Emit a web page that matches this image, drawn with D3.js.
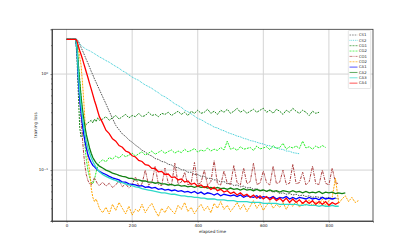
<!DOCTYPE html>
<html>
<head>
<meta charset="utf-8">
<script src="https://cdn.jsdelivr.net/npm/d3@7"></script>
<style>
body { margin: 0; background: #fff; }
text { font-family: "DejaVu Sans", sans-serif; fill: #222; }
</style>
</head>
<body>
<div class="chart"></div>
<script>
// shared time axis
var elapsed = [0,28,32,36,40,44,48,52,56,60,65,70,75,80,85,90,95,100,
  110,120,130,140,150,160,170,180,190,200,210,220,230,240,250,260,270,280,290,300,
  310,320,330,340,350,360,370,380,390,400,410,420,430,440,450,460,470,480,490,500,
  510,520,530,540,550,560,570,580,590,600,610,620,630,640,650,660,670,680,690,700,
  710,720,730,740,750,760,770,780,790,800,810,820,830,840,850,860,870,880,890];

var cs1 = [2.3,2.3,2.28,2.2,2.05,1.9,1.77,1.65,1.53,1.42,1.3,1.18,1.07,0.98,0.89,0.82,0.75,0.69,
  0.58,0.49,0.41,0.345,0.292,0.263,0.238,0.224,0.206,0.195,
  0.182,0.172,0.161,0.154,0.145,0.14,0.132,0.129,0.123,0.121,
  0.115,0.113,0.107,0.106,0.101,0.1,0.095,0.095,0.09,0.09,
  0.086,0.086,0.082,0.082,0.079,0.079,0.075,0.076,0.072,0.073,
  0.069,0.07,0.067,0.068,0.065,0.066,0.063,0.064,0.061,0.062,
  0.06,0.061,0.059,0.06,0.057,0.058,0.056,0.057,0.055,0.056,
  0.054,0.055,0.053,0.054,0.052,0.053,0.052,0.052,0.051,0.052,
  0.05,0.051,0.05];
var cs2 = [2.3,2.3,2.22,2.14,2.07,2.0,1.94,1.89,1.85,1.81,1.78,1.75,1.71,1.67,1.63,1.59,1.55,1.51,
  1.45,1.38,1.33,1.26,1.2,1.15,1.08,1.04,0.98,0.93,
  0.89,0.86,0.81,0.77,0.74,0.71,0.67,0.64,0.6,0.58,
  0.55,0.52,0.49,0.47,0.45,0.42,0.405,0.385,0.365,0.345,
  0.335,0.32,0.305,0.295,0.28,0.275,0.263,0.257,0.247,0.24,
  0.234,0.226,0.222,0.214,0.21,0.203,0.2,0.195,0.19,0.187,
  0.181,0.179,0.173,0.171,0.165,0.164,0.158,0.157,0.152,0.15,
  0.148];
var cg1 = [2.3,2.3,1.4,0.6,0.28,0.22,0.23,0.26,0.28,0.3,0.31,0.32,0.33,0.31,0.34,0.32,0.35,0.33,
  0.34,0.36,0.33,0.35,0.37,0.34,0.36,0.38,0.35,0.37,
  0.36,0.39,0.36,0.37,0.4,0.37,0.38,0.36,0.39,0.38,
  0.4,0.37,0.39,0.41,0.38,0.4,0.37,0.41,0.39,0.42,
  0.39,0.4,0.43,0.39,0.41,0.38,0.42,0.4,0.43,0.39,
  0.41,0.44,0.4,0.42,0.39,0.41,0.43,0.4,0.42,0.44,
  0.4,0.42,0.39,0.43,0.41,0.38,0.42,0.4,0.44,0.41,
  0.39,0.42,0.4,0.37,0.41,0.39,0.4];
var cg2 = [2.3,2.3,1.9,1.3,0.9,0.6,0.4,0.27,0.18,0.13,0.1,0.085,0.075,0.072,0.08,0.095,0.11,0.12,
  0.128,0.122,0.135,0.13,0.14,0.133,0.145,0.138,0.143,0.15,
  0.14,0.148,0.155,0.143,0.15,0.158,0.146,0.153,0.16,0.149,
  0.156,0.162,0.15,0.158,0.152,0.165,0.155,0.16,0.168,0.154,
  0.162,0.157,0.17,0.158,0.165,0.16,0.172,0.162,0.2,0.165,
  0.17,0.16,0.175,0.165,0.168,0.172,0.16,0.178,0.166,0.17,
  0.175,0.163,0.18,0.168,0.172,0.19,0.165,0.175,0.17,0.178,
  0.168,0.2,0.17,0.175,0.165,0.178,0.17,0.18,0.172];
var co1 = [2.3,2.3,1.8,1.1,0.6,0.35,0.22,0.15,0.11,0.09,0.078,0.072,0.07,0.076,0.083,0.077,0.071,0.069,
  0.075,0.068,0.073,0.066,0.07,0.078,0.067,0.072,0.065,0.07,
  0.085,0.068,0.072,0.1,0.07,0.074,0.11,0.071,0.069,0.105,
  0.073,0.07,0.118,0.072,0.075,0.095,0.07,0.073,0.12,0.071,
  0.074,0.1,0.069,0.076,0.125,0.072,0.07,0.098,0.073,0.071,
  0.112,0.074,0.07,0.105,0.072,0.076,0.118,0.071,0.073,0.098,
  0.074,0.07,0.11,0.072,0.075,0.1,0.071,0.073,0.115,0.072,
  0.074,0.095,0.07,0.076,0.11,0.072,0.071,0.1,0.073,0.07,
  0.105,0.074,0.072];
var co2 = [2.3,2.3,2.1,1.8,1.5,1.25,0.85,0.55,0.33,0.2,0.13,0.1,0.065,0.052,0.047,0.05,0.045,0.04,
  0.036,0.041,0.035,0.044,0.038,0.046,0.04,0.035,0.042,0.034,
  0.039,0.037,0.044,0.036,0.041,0.045,0.038,0.033,0.04,0.036,
  0.042,0.038,0.035,0.043,0.039,0.046,0.037,0.041,0.035,0.04,
  0.044,0.038,0.042,0.036,0.045,0.04,0.047,0.039,0.043,0.037,
  0.041,0.046,0.039,0.044,0.037,0.042,0.048,0.04,0.045,0.038,
  0.043,0.047,0.04,0.044,0.041,0.046,0.039,0.045,0.042,0.048,
  0.041,0.046,0.043,0.049,0.042,0.047,0.044,0.05,0.043,0.048,
  0.052,0.082,0.045,0.05,0.054,0.047,0.052,0.046,0.048];
var ca1 = [2.3,2.3,1.7,0.85,0.55,0.4,0.3,0.24,0.2,0.17,0.145,0.13,0.12,0.112,0.108,0.104,0.1,0.097,
  0.093,0.09,0.086,0.083,0.081,0.079,0.075,0.075,0.072,0.071,
  0.07,0.068,0.069,0.066,0.067,0.065,0.066,0.063,0.064,0.062,
  0.063,0.061,0.062,0.06,0.061,0.059,0.06,0.058,0.06,0.057,
  0.059,0.056,0.058,0.057,0.055,0.057,0.054,0.056,0.055,0.054,
  0.055,0.053,0.055,0.052,0.054,0.053,0.052,0.054,0.051,0.053,
  0.052,0.051,0.053,0.05,0.052,0.051,0.053,0.05,0.052,0.05,
  0.052,0.051,0.05,0.052,0.05,0.051,0.049,0.052,0.05,0.051,
  0.05,0.051];
var ca2 = [2.3,2.3,1.9,1.2,0.8,0.58,0.44,0.35,0.28,0.235,0.2,0.17,0.15,0.135,0.126,0.119,0.114,0.11,
  0.105,0.1,0.097,0.093,0.091,0.088,0.086,0.085,0.082,0.082,
  0.079,0.079,0.077,0.077,0.075,0.075,0.073,0.074,0.072,0.072,
  0.07,0.071,0.069,0.07,0.068,0.069,0.067,0.068,0.066,0.068,
  0.066,0.067,0.065,0.066,0.064,0.066,0.064,0.065,0.063,0.065,
  0.063,0.064,0.062,0.064,0.062,0.063,0.061,0.063,0.061,0.062,
  0.06,0.062,0.06,0.061,0.059,0.061,0.06,0.059,0.061,0.059,
  0.06,0.058,0.06,0.058,0.059,0.058,0.06,0.057,0.059,0.058,
  0.059,0.057,0.058,0.057,0.058];
var ca3 = [2.3,2.3,1.8,1.0,0.65,0.47,0.36,0.29,0.24,0.2,0.17,0.15,0.135,0.123,0.114,0.107,0.101,0.096,
  0.09,0.086,0.083,0.08,0.078,0.075,0.074,0.072,0.07,0.069,
  0.067,0.066,0.064,0.063,0.062,0.061,0.06,0.059,0.058,0.058,
  0.057,0.056,0.056,0.055,0.054,0.054,0.053,0.053,0.052,0.052,
  0.051,0.051,0.05,0.05,0.05,0.049,0.049,0.049,0.048,0.048,
  0.048,0.047,0.047,0.047,0.047,0.046,0.046,0.046,0.046,0.045,
  0.045,0.045,0.045,0.045,0.044,0.044,0.044,0.044,0.044,0.044,
  0.043,0.043,0.044,0.043,0.043,0.043,0.042,0.043,0.042,0.042,
  0.043,0.042,0.042];
var ca4 = [2.3,2.3,2.2,1.95,1.75,1.6,1.45,1.3,1.17,1.05,0.92,0.8,0.7,0.61,0.53,0.47,0.41,0.36,
  0.31,0.26,0.24,0.212,0.2,0.18,0.173,0.158,0.153,0.141,
  0.137,0.126,0.123,0.114,0.112,0.104,0.104,0.096,0.097,0.09,
  0.091,0.084,0.085,0.079,0.081,0.075,0.077,0.071,0.073,0.068,
  0.07,0.066,0.068,0.063,0.066,0.061,0.063,0.059,0.061,0.057,
  0.059,0.055,0.058,0.054,0.056,0.052,0.055,0.051,0.054,0.05,
  0.053,0.049,0.052,0.048,0.051,0.047,0.051,0.046,0.05,0.046,
  0.049,0.045,0.048,0.045,0.048,0.044,0.047,0.044,0.047,0.043,
  0.046,0.044,0.046];

var names = ["CS1","CS2","CG1","CG2","CO1","CO2","CA1","CA2","CA3","CA4"];
var values = [cs1, cs2, cg1, cg2, co1, co2, ca1, ca2, ca3, ca4];
var colors = ["#555555","#22c8d2","#1e8a1e","#22ee22","#b04848","#ffa500","#0000ff","#128012","#30d8c8","#ff0000"];
var dashes = ["1.6,1","0.9,0.9","2,1","2,1","3,1,1,1","2,1",null,null,null,null];

var xTicks = [0,200,400,600,800];
var yTicks = [1, 0.1];

var W = 415, H = 249;
var margin = {top: 29.3, right: 42, bottom: 28, left: 52};
var width = W - margin.left - margin.right,
    height = H - margin.top - margin.bottom;

var svg = d3.select(".chart").append("svg")
    .attr("width", W)
    .attr("height", H)
    .style("background", "#fff");

var g = svg.append("g")
    .attr("transform", "translate(" + margin.left + "," + margin.top + ")");

var x = d3.scaleLinear().domain([-44.5, 934.5]).range([0, width]);
var y = d3.scaleLog().domain([0.0295, 2.924]).range([height, 0]);

g.append("clipPath").attr("id", "clip")
    .append("rect").attr("width", width).attr("height", height);

// grid
g.selectAll(".gx").data(xTicks).enter().append("line")
    .attr("x1", function(d) { return x(d); })
    .attr("x2", function(d) { return x(d); })
    .attr("y1", 0).attr("y2", height)
    .style("stroke", "#d4d4d4").style("stroke-width", 1);
g.selectAll(".gy").data(yTicks).enter().append("line")
    .attr("y1", function(d) { return y(d); })
    .attr("y2", function(d) { return y(d); })
    .attr("x1", 0).attr("x2", width)
    .style("stroke", "#d4d4d4").style("stroke-width", 1);

var line = d3.line()
    .x(function(d) { return x(d[0]); })
    .y(function(d) { return y(d[1]); });

var plot = g.append("g").attr("clip-path", "url(#clip)");
values.forEach(function(vals, i) {
    var pts = vals.map(function(v, j) { return [elapsed[j], v]; });
    plot.append("path")
        .datum(pts)
        .attr("d", line)
        .style("fill", "none")
        .style("stroke", colors[i])
        .style("stroke-width", dashes[i] ? 1 : 1.3)
        .style("stroke-dasharray", dashes[i]);
});

// axes
var xAxis = g.append("g")
    .attr("transform", "translate(0," + height + ")")
    .call(d3.axisBottom(x).tickValues(xTicks).tickSize(1.5).tickPadding(1.5));
xAxis.selectAll("text").style("font-size", "4px");

var yAxis = g.append("g")
    .call(d3.axisLeft(y).tickValues(yTicks).tickSize(1.5).tickPadding(1.5).tickFormat(""));
var minors = [];
[0.01, 0.1, 1].forEach(function(dec) {
    for (var k = 2; k < 10; k++) {
        var v = dec * k;
        if (v > y.domain()[0] && v < y.domain()[1]) minors.push(v);
    }
});
g.append("g")
    .call(d3.axisLeft(y).tickValues(minors).tickSize(0.9).tickFormat(""))
    .select(".domain").remove();

[xAxis, yAxis].forEach(function(a) {
    a.select(".domain").style("stroke", "#333").style("stroke-width", 0.8);
});
g.selectAll(".tick line").style("stroke", "#333").style("stroke-width", 0.6);

var yl = g.selectAll(".ylab").data(yTicks).enter().append("text")
    .attr("x", -4)
    .attr("y", function(d) { return y(d); })
    .attr("dy", "0.35em")
    .attr("text-anchor", "end")
    .style("font-size", "4px");
yl.append("tspan").text("10");
yl.append("tspan")
    .attr("dy", "-1.6")
    .style("font-size", "2.8px")
    .text(function(d) { return d === 1 ? "0" : "\u22121"; });

// right and top spines
g.append("rect")
    .attr("width", width).attr("height", height)
    .style("fill", "none").style("stroke", "#333").style("stroke-width", 0.8);

g.append("text")
    .attr("x", width / 2)
    .attr("y", height + 11.8)
    .attr("text-anchor", "middle")
    .style("font-size", "4.2px")
    .text("elapsed time");

g.append("text")
    .attr("transform", "translate(-15.5," + (height / 2) + ") rotate(-90)")
    .attr("text-anchor", "middle")
    .style("font-size", "4.2px")
    .text("training loss");

// legend
var legend = svg.append("g").attr("transform", "translate(348.3,30.5)");
legend.append("rect")
    .attr("width", 22.4).attr("height", 58)
    .attr("rx", 0.8)
    .style("fill", "#fff").style("fill-opacity", 0.8)
    .style("stroke", "#ccc").style("stroke-width", 0.5);
var item = legend.selectAll(".item").data(names).enter().append("g")
    .attr("transform", function(d, i) { return "translate(0," + (4.5 + i * 5.35) + ")"; });
item.append("line")
    .attr("x1", 1.2).attr("x2", 9.2)
    .style("stroke", function(d, i) { return colors[i]; })
    .style("stroke-opacity", 0.75)
    .style("stroke-width", 0.9)
    .style("stroke-dasharray", function(d, i) { return dashes[i]; });
item.append("text")
    .attr("x", 10.6)
    .attr("dy", "0.35em")
    .style("font-size", "3.8px")
    .text(function(d) { return d; });
</script>
</body>
</html>
